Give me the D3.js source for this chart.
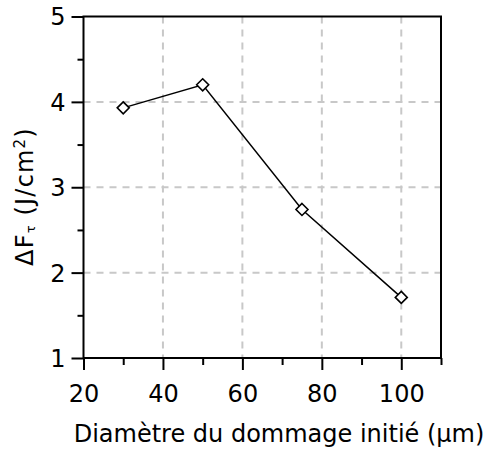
<!DOCTYPE html>
<html>
<head>
<meta charset="utf-8">
<script src="https://cdn.jsdelivr.net/npm/d3@7"></script>
<style>
  html, body { margin: 0; padding: 0; background: #fff; }
  svg { display: block; font-family: "DejaVu Sans", Verdana, sans-serif; }
</style>
</head>
<body>
<svg id="chart" width="486" height="450"></svg>
<script>
// Damage diameter (µm) and fluence gap ΔFτ (J/cm²)
const diameters = [30, 50, 75, 100];
const deltaF = [3.93, 4.2, 2.74, 1.71];

const xMajorTicks = [20, 40, 60, 80, 100];
const xMinorTicks = [30, 50, 70, 90, 110];
const yMajorTicks = [1, 2, 3, 4, 5];
const yMinorTicks = [1.5, 2.5, 3.5, 4.5];

const xLabel = "Diamètre du dommage initié (µm)";

const svg = d3.select("#chart");
const margin = { left: 83.5, right: 45, top: 16.5, bottom: 92 };
const W = 486, H = 450;
const fontSize = 24;

const x = d3.scaleLinear().domain([20, 110]).range([margin.left, W - margin.right]);
const y = d3.scaleLinear().domain([1, 5]).range([H - margin.bottom, margin.top]);

// dashed grid at interior major ticks
const grid = svg.append("g").attr("stroke", "#c8c8c8").attr("stroke-width", 2)
  .attr("stroke-dasharray", "7,6");
grid.selectAll("line.vx").data(xMajorTicks.filter(v => v > 20)).join("line")
  .attr("x1", d => x(d)).attr("x2", d => x(d))
  .attr("y1", y(5)).attr("y2", y(1));
grid.selectAll("line.hy").data(yMajorTicks.filter(v => v > 1 && v < 5)).join("line")
  .attr("y1", d => y(d)).attr("y2", d => y(d))
  .attr("x1", x(20)).attr("x2", x(110));

// x axis: major ticks with labels, minor ticks without
const gx = svg.append("g").attr("transform", `translate(0,${y(1)})`)
  .call(d3.axisBottom(x).tickValues(xMajorTicks).tickSize(12).tickFormat(d3.format("d")));
gx.select(".domain").remove();
gx.selectAll(".tick line").attr("stroke", "#000").attr("stroke-width", 2);
gx.selectAll("text").attr("font-size", fontSize).attr("font-family", "DejaVu Sans")
  .attr("fill", "#000").attr("y", 43.5).attr("dy", 0);

const gxm = svg.append("g").attr("transform", `translate(0,${y(1)})`)
  .call(d3.axisBottom(x).tickValues(xMinorTicks).tickSize(7).tickFormat(""));
gxm.select(".domain").remove();
gxm.selectAll(".tick line").attr("stroke", "#000").attr("stroke-width", 2);

// y axis
const gy = svg.append("g").attr("transform", `translate(${x(20)},0)`)
  .call(d3.axisLeft(y).tickValues(yMajorTicks).tickSize(12).tickFormat(d3.format("d")));
gy.select(".domain").remove();
gy.selectAll(".tick line").attr("stroke", "#000").attr("stroke-width", 2);
gy.selectAll("text").attr("font-size", fontSize).attr("font-family", "DejaVu Sans")
  .attr("fill", "#000").attr("x", -18).attr("dy", "0.35em");

const gym = svg.append("g").attr("transform", `translate(${x(20)},0)`)
  .call(d3.axisLeft(y).tickValues(yMinorTicks).tickSize(6).tickFormat(""));
gym.select(".domain").remove();
gym.selectAll(".tick line").attr("stroke", "#000").attr("stroke-width", 2);

// frame
svg.append("rect")
  .attr("x", x(20)).attr("y", y(5))
  .attr("width", x(110) - x(20)).attr("height", y(1) - y(5))
  .attr("fill", "none").attr("stroke", "#000").attr("stroke-width", 2);

// series
const pts = diameters.map((d, i) => [d, deltaF[i]]);
svg.append("path")
  .datum(pts)
  .attr("fill", "none").attr("stroke", "#000").attr("stroke-width", 1.5)
  .attr("d", d3.line().x(d => x(d[0])).y(d => y(d[1])));

svg.selectAll("path.marker").data(pts).join("path")
  .attr("class", "marker")
  .attr("transform", d => `translate(${x(d[0])},${y(d[1])})`)
  .attr("d", "M0,-6L6,0L0,6L-6,0Z")
  .attr("fill", "#fff").attr("stroke", "#000").attr("stroke-width", 1.6);

// axis titles
svg.append("text")
  .attr("x", 279).attr("y", 442)
  .attr("text-anchor", "middle").attr("font-size", fontSize).attr("fill", "#000")
  .text(xLabel);

const yt = svg.append("text")
  .attr("transform", `translate(33,196.5) rotate(-90)`)
  .attr("text-anchor", "middle").attr("font-size", fontSize).attr("fill", "#000")
  .attr("letter-spacing", 1.2);
yt.append("tspan").text("ΔF");
yt.append("tspan").attr("font-size", 13).attr("dy", 2).text("τ");
yt.append("tspan").attr("dy", -2).text(" (J/cm");
yt.append("tspan").attr("font-size", 15).attr("dy", -8).text("2");
yt.append("tspan").attr("dy", 8).text(")");
</script>
</body>
</html>
